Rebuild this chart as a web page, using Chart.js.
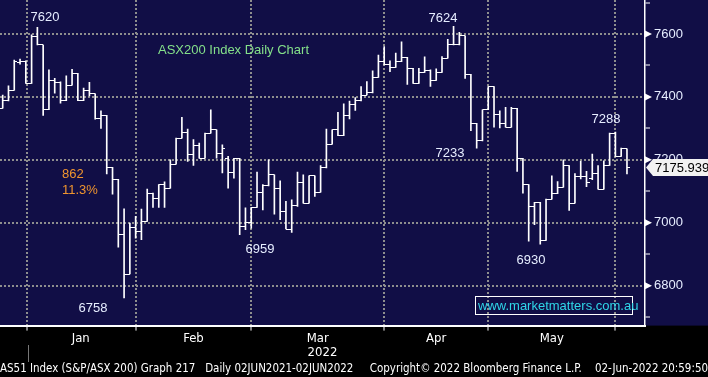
<!DOCTYPE html>
<html>
<head>
<meta charset="utf-8">
<script src="https://cdn.jsdelivr.net/npm/chart.js@4"></script>
<style>
  html, body { margin: 0; padding: 0; background: #000; }
  canvas { display: block; }
</style>
</head>
<body>
<canvas id="chart" width="708" height="377"></canvas>
<script>
// ASX200 daily bars, 23 Dec 2021 .. 2 Jun 2022 (x = trading day number)
const highs = [7406, 7435, 7517, 7520, 7515, 7597, 7621, 7565, 7486, 7459, 7448, 7467, 7488, 7475, 7428, 7446, 7410, 7356, 7341, 7176,
  7138, 7044, 6999, 7020, 7043, 7107, 7094, 7121, 7130, 7200, 7269, 7335, 7298, 7264, 7253, 7285, 7359, 7295, 7248, 7211,
  7205, 7205, 7047, 7049, 7161, 7121, 7200, 7152, 7133, 7068, 7073, 7161, 7152, 7149, 7149, 7182, 7298, 7295, 7351, 7378,
  7387, 7398, 7433, 7449, 7483, 7533, 7560, 7515, 7539, 7575, 7526, 7491, 7491, 7527, 7486, 7489, 7528, 7583, 7624, 7605,
  7594, 7472, 7316, 7359, 7433, 7433, 7356, 7367, 7367, 7364, 7205, 7121, 7065, 7065, 7075, 7149, 7131, 7200, 7182, 7156,
  7195, 7163, 7218, 7182, 7197, 7285, 7288, 7237, 7235];
const lows = [7364, 7387, 7421, 7504, 7443, 7443, 7565, 7341, 7359, 7412, 7380, 7388, 7437, 7388, 7388, 7403, 7329, 7300, 7155, 7091,
  6922, 6761, 6837, 6951, 6946, 7004, 7049, 7049, 7049, 7110, 7186, 7269, 7195, 7182, 7205, 7205, 7285, 7205, 7158, 7110,
  7142, 6962, 6978, 6983, 7049, 7041, 7117, 7027, 7010, 6980, 6969, 7052, 7062, 7062, 7084, 7097, 7174, 7250, 7277, 7277,
  7330, 7357, 7387, 7406, 7413, 7462, 7502, 7480, 7494, 7512, 7440, 7443, 7443, 7478, 7433, 7452, 7478, 7523, 7565, 7565,
  7459, 7293, 7237, 7260, 7359, 7304, 7301, 7304, 7304, 7163, 7094, 6941, 6994, 6932, 6944, 7075, 7092, 7113, 7039, 7062,
  7139, 7115, 7137, 7107, 7107, 7182, 7211, 7211, 7155];
const opens = [7364, 7387, 7421, 7510, 7512, 7443, 7592, 7565, 7359, 7452, 7446, 7390, 7437, 7475, 7390, 7420, 7410, 7332, 7341, 7176,
  7138, 6962, 6837, 6986, 6971, 7004, 7092, 7078, 7121, 7110, 7186, 7269, 7288, 7218, 7244, 7205, 7285, 7295, 7221, 7205,
  7161, 7205, 6988, 7001, 7049, 7096, 7117, 7152, 7110, 7036, 6980, 7054, 7129, 7062, 7149, 7097, 7174, 7250, 7295, 7277,
  7341, 7377, 7387, 7406, 7413, 7462, 7512, 7502, 7494, 7512, 7526, 7491, 7443, 7478, 7484, 7452, 7478, 7523, 7565, 7568,
  7594, 7472, 7316, 7260, 7359, 7433, 7345, 7316, 7304, 7364, 7205, 7121, 7050, 7065, 6944, 7075, 7092, 7113, 7182, 7062,
  7147, 7147, 7140, 7155, 7107, 7182, 7285, 7211, 7235];
const closes = [7387, 7421, 7512, 7512, 7443, 7592, 7565, 7359, 7452, 7446, 7390, 7437, 7475, 7390, 7420, 7410, 7332, 7341, 7176, 7138,
  6962, 6837, 6986, 6971, 7004, 7092, 7078, 7121, 7110, 7186, 7269, 7288, 7218, 7244, 7205, 7285, 7295, 7221, 7235, 7161,
  7205, 6988, 7001, 7049, 7096, 7117, 7152, 7110, 7036, 6980, 7054, 7129, 7062, 7149, 7097, 7174, 7250, 7295, 7277, 7341,
  7377, 7387, 7406, 7413, 7462, 7512, 7502, 7494, 7512, 7526, 7491, 7443, 7478, 7484, 7452, 7478, 7523, 7565, 7568, 7594,
  7472, 7316, 7260, 7359, 7433, 7345, 7316, 7304, 7364, 7205, 7121, 7050, 7065, 6944, 7075, 7092, 7113, 7182, 7062, 7147,
  7147, 7129, 7155, 7107, 7182, 7285, 7211, 7235, 7177];

const monthNames = ['Jan', 'Feb', 'Mar', 'Apr', 'May'];
const monthMids = [13.5, 33, 54.5, 75, 95];
const monthEdges = [4.2, 23, 43, 66, 84, 106];
const yTicks = [6700, 6800, 6900, 7000, 7100, 7200, 7300, 7400, 7500, 7600, 7700];
const yLabelled = [6800, 7000, 7200, 7400, 7600];
const lastPrice = 7175.939;

const NAVY = '#110e46';
const GRID = '#8e8e8e';
const NUM = '#e6edff';
const NARROW = "'Liberation Sans Narrow', 'DejaVu Sans Condensed', 'Liberation Sans', sans-serif";
const SANS = "'Liberation Sans', Arial, sans-serif";

// little tick images for open (left) and close (right)
function tickImage(side) {
  const c = document.createElement('canvas');
  c.width = 6; c.height = 1;
  const g = c.getContext('2d');
  g.fillStyle = '#ffffff';
  g.fillRect(side === 'left' ? 0 : 3, 0, 3, 1);
  return c;
}

const background = {
  id: 'background',
  beforeDraw(chart) {
    const { ctx, chartArea } = chart;
    ctx.save();
    ctx.fillStyle = '#000';
    ctx.fillRect(0, 0, chart.width, chart.height);
    ctx.fillStyle = NAVY;
    ctx.fillRect(0, 0, chart.width, chartArea.bottom);
    ctx.restore();
  }
};

const decor = {
  id: 'decor',
  afterDraw(chart) {
    const { ctx, chartArea, scales } = chart;
    const y = scales.y;
    const ax = chartArea.right;
    ctx.save();

    // arrow flags on labelled ticks
    ctx.fillStyle = '#fff';
    yLabelled.forEach(v => {
      const py = y.getPixelForValue(v);
      ctx.beginPath();
      ctx.moveTo(ax, py - 3.5);
      ctx.lineTo(ax + 7, py);
      ctx.lineTo(ax, py + 3.5);
      ctx.closePath();
      ctx.fill();
    });

    // last price box
    const py = y.getPixelForValue(lastPrice);
    ctx.beginPath();
    ctx.moveTo(ax + 1, py);
    ctx.lineTo(ax + 8, py - 8.5);
    ctx.lineTo(chart.width, py - 8.5);
    ctx.lineTo(chart.width, py + 8.5);
    ctx.lineTo(ax + 8, py + 8.5);
    ctx.closePath();
    ctx.fillStyle = '#f2f2f2';
    ctx.fill();
    ctx.fillStyle = '#000';
    ctx.font = '13px ' + SANS;
    ctx.textBaseline = 'middle';
    ctx.textAlign = 'left';
    ctx.fillText(lastPrice.toFixed(3), ax + 10, py + 1);

    // high / low callouts
    ctx.font = '13px ' + SANS;
    ctx.fillStyle = NUM;
    ctx.textAlign = 'center';
    [['7620', 45, 17], ['7624', 443, 18], ['7288', 606, 119], ['7233', 450, 153],
     ['6959', 260, 249], ['6930', 531, 260], ['6758', 93, 308]].forEach(([t, x, yy]) => ctx.fillText(t, x, yy));

    ctx.textAlign = 'left';
    ctx.fillStyle = '#f0952e';
    ctx.fillText('862', 62, 174);
    ctx.fillText('11.3%', 62, 190);

    ctx.fillStyle = '#84e08a';
    ctx.fillText('ASX200 Index Daily Chart', 158, 50);

    // watermark
    ctx.strokeStyle = '#fff';
    ctx.lineWidth = 1;
    ctx.strokeRect(475.5, 296.5, 157, 18);
    ctx.fillStyle = '#2fd6e8';
    ctx.fillText('www.marketmatters.com.au', 478, 306);

    // year divider under the axis
    ctx.strokeStyle = '#777';
    ctx.beginPath();
    ctx.moveTo(28.5, 345);
    ctx.lineTo(28.5, 362);
    ctx.stroke();
    ctx.restore();
  }
};

new Chart(document.getElementById('chart'), {
  data: {
    datasets: [
      {
        type: 'bar',
        data: highs.map((h, i) => ({ x: i, y: [lows[i], h] })),
        backgroundColor: '#ffffff',
        borderWidth: 0,
        barThickness: 1,
        grouped: false
      },
      {
        type: 'scatter',
        data: opens.map((v, i) => ({ x: i, y: v })),
        pointStyle: tickImage('left'),
        pointRadius: 3
      },
      {
        type: 'scatter',
        data: closes.map((v, i) => ({ x: i, y: v })),
        pointStyle: tickImage('right'),
        pointRadius: 3
      }
    ]
  },
  options: {
    responsive: false,
    animation: false,
    events: [],
    layout: { padding: 0, autoPadding: false },
    scales: {
      x: {
        type: 'linear',
        min: -0.467,
        max: 111.12,
        offset: false,
        afterBuildTicks: s => {
          s.ticks = monthEdges.concat(monthMids).sort((a, b) => a - b).map(v => ({ value: v }));
        },
        afterFit: s => { s.height = 36; s.paddingLeft = 0; s.paddingRight = 0; },
        ticks: {
          autoSkip: false,
          maxRotation: 0,
          color: '#fff',
          padding: 0,
          font: { family: NARROW, size: 13 },
          callback: v => {
            const k = monthMids.indexOf(v);
            return k >= 0 ? monthNames[k] : '';
          }
        },
        grid: {
          offset: false,
          color: c => (c.tick && monthEdges.includes(c.tick.value)) ? GRID : 'rgba(0,0,0,0)',
          tickColor: c => (c.tick && monthEdges.includes(c.tick.value)) ? '#fff' : 'rgba(0,0,0,0)',
          lineWidth: 2,
          tickLength: 5,
          tickWidth: 1
        },
        border: { display: true, color: '#fff', width: 2, dash: [2, 2] },
        title: {
          display: true,
          text: '2022',
          color: '#fff',
          font: { family: NARROW, size: 13 },
          padding: { top: 0, bottom: 1 }
        }
      },
      y: {
        type: 'linear',
        position: 'right',
        min: 6673,
        max: 7708,
        afterBuildTicks: s => { s.ticks = yTicks.map(v => ({ value: v })); },
        afterFit: s => { s.width = 63; s.paddingTop = 0; s.paddingBottom = 0; },
        ticks: {
          color: NUM,
          padding: 4,
          font: { family: SANS, size: 13 },
          callback: v => yLabelled.includes(v) ? String(v) : ''
        },
        grid: {
          color: c => (c.tick && yLabelled.includes(c.tick.value)) ? GRID : 'rgba(0,0,0,0)',
          tickColor: c => (c.tick && yLabelled.includes(c.tick.value)) ? 'rgba(0,0,0,0)' : '#fff',
          lineWidth: 2,
          tickLength: 5,
          tickWidth: 1
        },
        border: { display: true, color: '#fff', width: 1.5, dash: [2, 2] }
      }
    },
    plugins: {
      legend: { display: false },
      tooltip: { enabled: false },
      title: {
        display: true,
        position: 'bottom',
        align: 'start',
        text: 'AS51 Index (S&P/ASX 200) Graph 217   Daily 02JUN2021-02JUN2022     Copyright\u00A9 2022 Bloomberg Finance L.P.    02-Jun-2022 20:59:50',
        color: '#fff',
        font: { family: NARROW, size: 12, weight: 'normal' },
        padding: { top: 0, bottom: 1 }
      }
    }
  },
  plugins: [background, decor]
});
</script>
</body>
</html>
